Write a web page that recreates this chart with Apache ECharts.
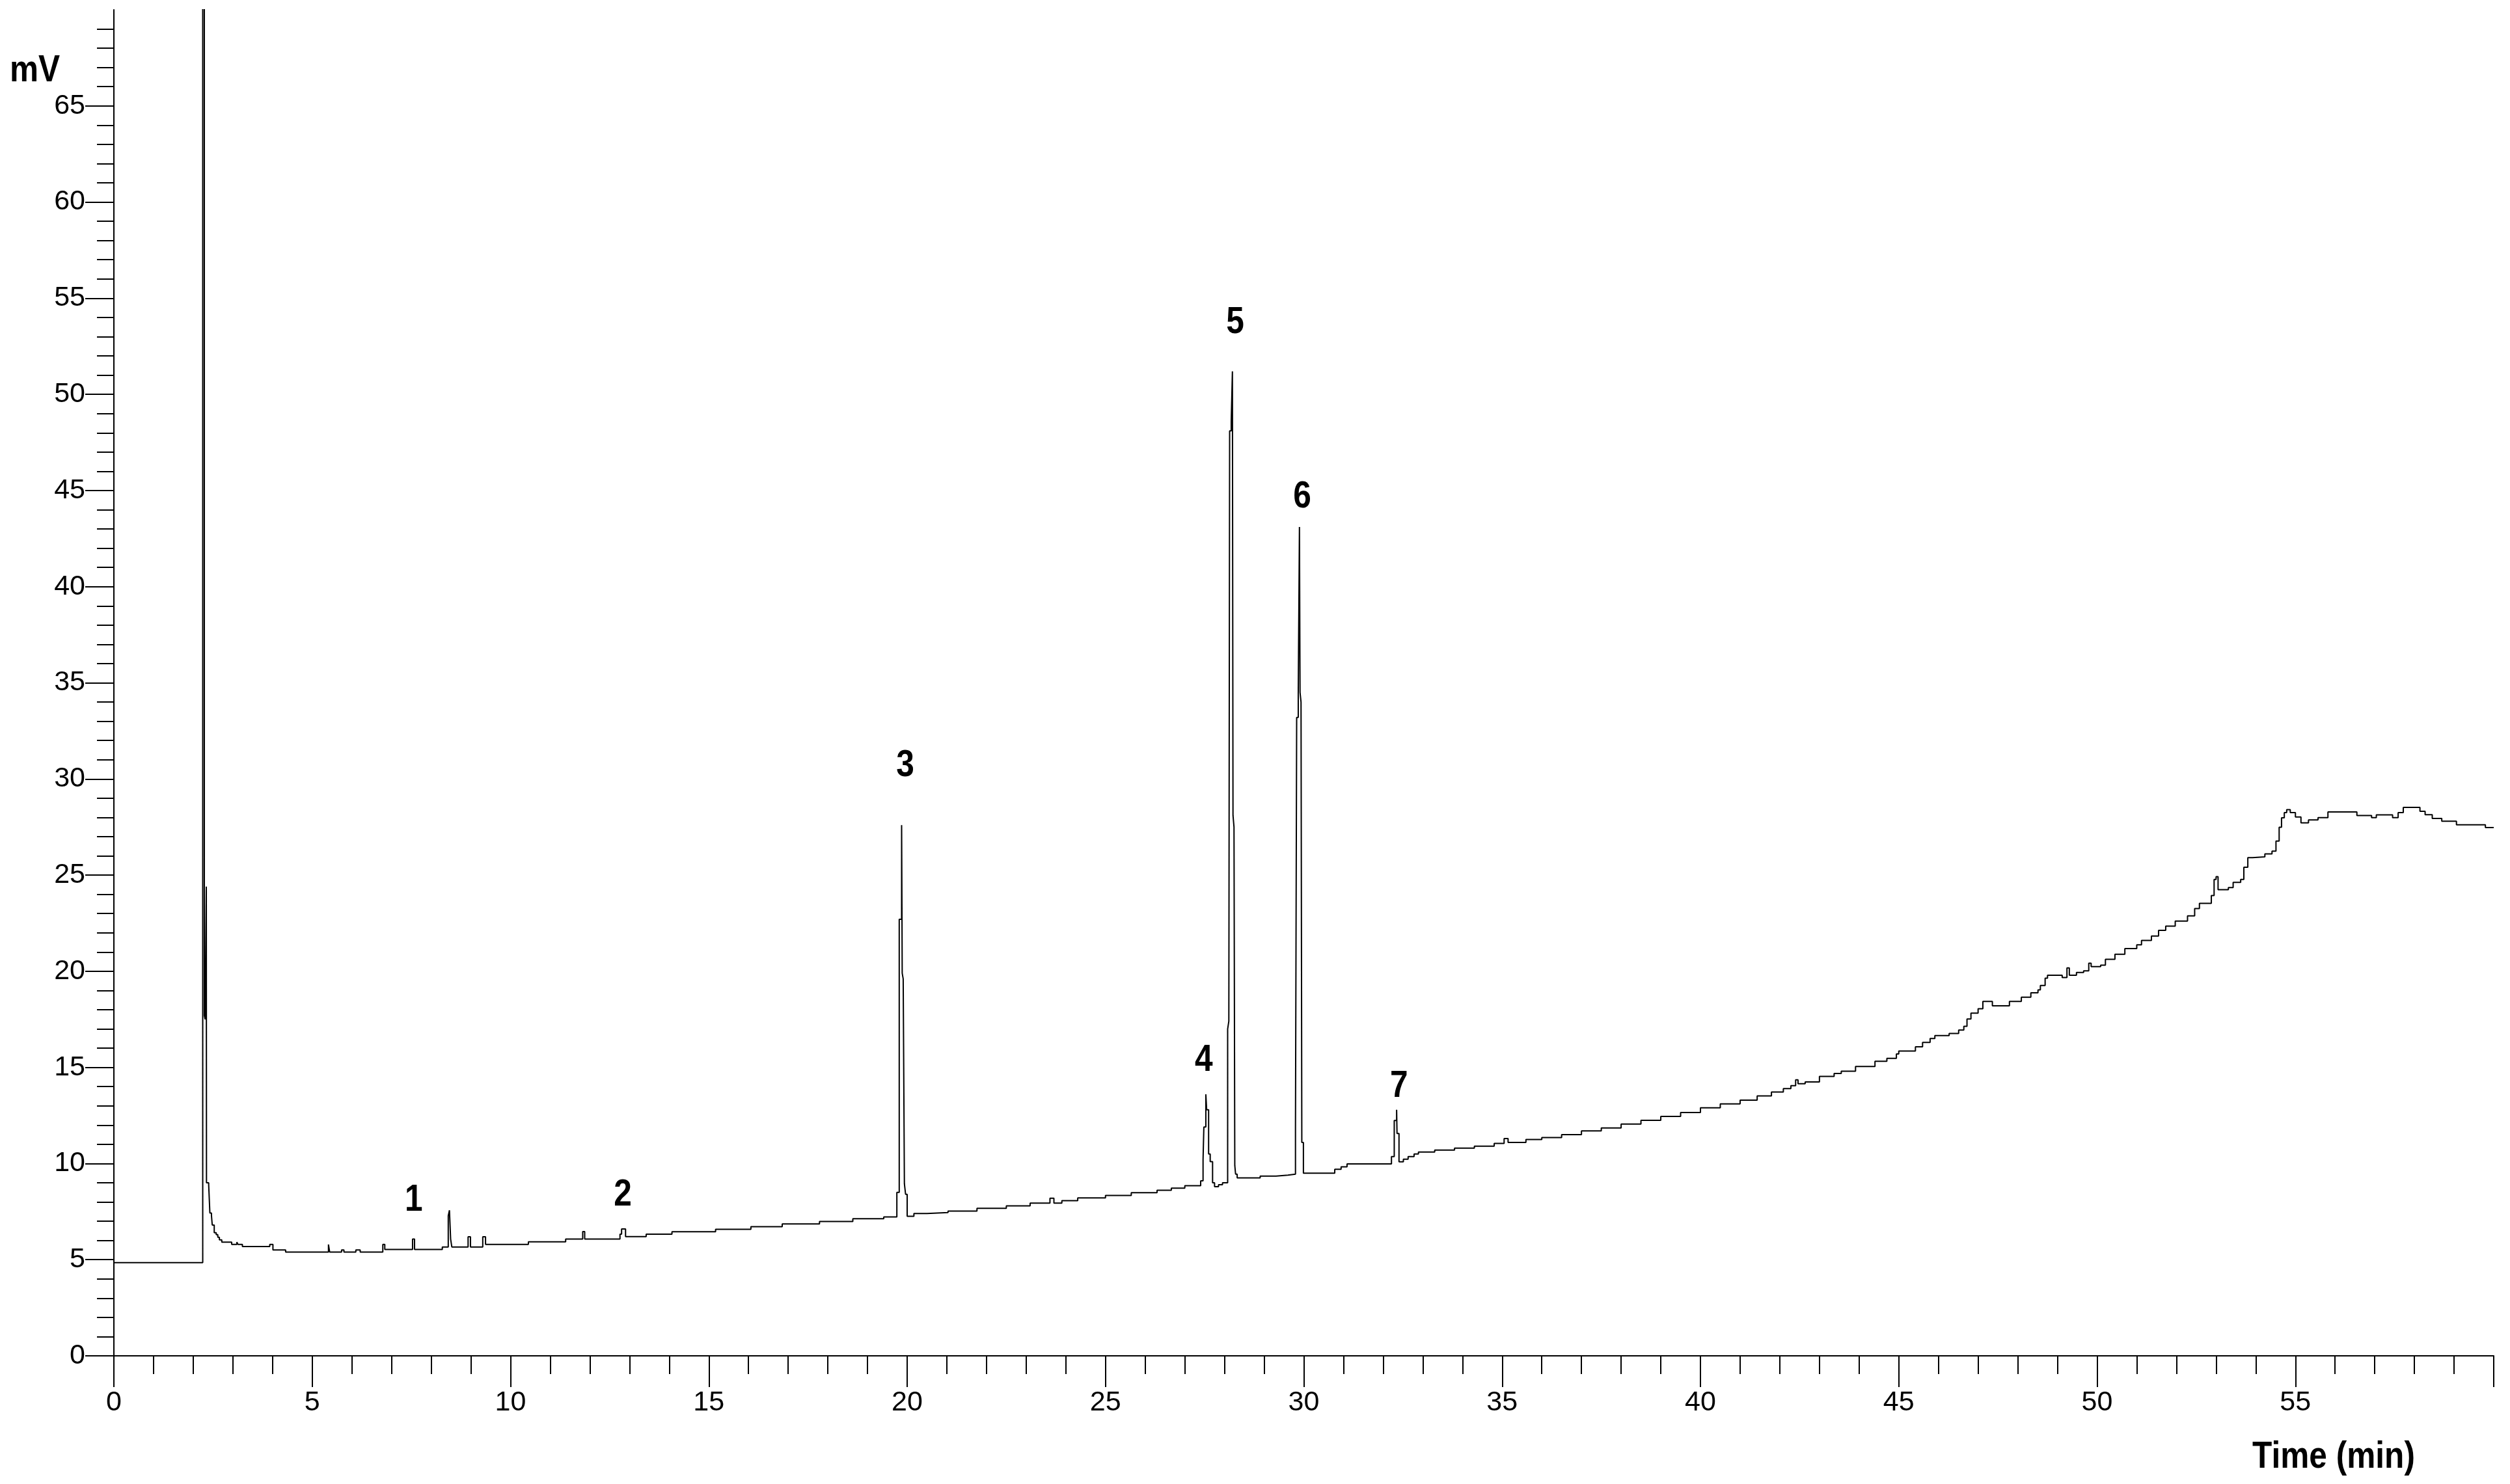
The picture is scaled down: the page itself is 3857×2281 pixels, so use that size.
<!DOCTYPE html>
<html>
<head>
<meta charset="utf-8">
<script src="https://cdn.jsdelivr.net/npm/echarts@6/dist/echarts.min.js"></script>
<style>
html,body{margin:0;padding:0;background:#fff;}
#c{width:3857px;height:2281px;}
</style>
</head>
<body>
<div id="c"></div>
<script>
// ---- chromatogram trace (time in min, signal in mV); each value holds until the next time ----
const traceTime = [
  0, 2.24, 2.28, 2.30, 2.33, 2.335, 2.39, 2.42, 2.46, 2.48, 2.53, 2.58, 2.62, 2.66, 2.72, 2.97, 3.10, 3.13, 3.24, 3.93,
  4.01, 4.33, 5.41, 5.44, 5.74, 5.80, 6.10, 6.21, 6.78, 6.83, 7.53, 7.58, 8.28, 8.43, 8.46, 8.49, 8.52, 8.93, 8.99, 9.30,
  9.37, 10.45, 11.39, 11.82, 11.87, 12.76, 12.80, 12.90, 13.42, 14.07, 15.17, 16.06, 16.85, 17.79, 18.63, 19.41,
  19.74, 19.80, 19.86, 19.875, 19.90, 19.93, 19.96, 20.00, 20.17, 20.50, 21.03, 21.76, 22.50, 23.10, 23.60, 23.70,
  23.90, 24.30, 25.00, 25.65, 26.30, 26.66, 27.00, 27.40, 27.46, 27.48, 27.53, 27.55, 27.60, 27.64, 27.70, 27.75,
  27.85, 27.95, 28.08, 28.11, 28.13, 28.17, 28.20, 28.215, 28.24, 28.26, 28.28, 28.32, 28.90, 29.30, 29.60,
  29.79, 29.82, 29.86, 29.89, 29.905, 29.93, 29.95, 29.99, 30.78, 30.94, 31.09, 32.21, 32.28, 32.34, 32.35, 32.40,
  32.51, 32.63, 32.78, 32.89, 33.3, 33.8, 34.3, 34.8, 35.05, 35.15, 35.6, 36.0, 36.5, 37.0, 37.5, 38.0, 38.5, 39.0,
  39.5, 40.0, 40.5, 41.0, 41.43, 41.79, 42.09, 42.28, 42.40, 42.46, 42.64, 43.00, 43.37, 43.55, 43.91, 44.40, 44.70,
  44.94, 45.00, 45.42, 45.60, 45.79, 45.91, 46.27, 46.51, 46.64, 46.72, 46.82, 47.00, 47.12, 47.36, 47.79, 48.09,
  48.33, 48.51, 48.57, 48.69, 48.75, 49.12, 49.24, 49.30, 49.48, 49.66, 49.79, 49.85, 50.09, 50.21, 50.45, 50.70,
  51.00, 51.12, 51.37, 51.55, 51.73, 51.97, 52.28, 52.46, 52.58, 52.88, 52.95, 53.00, 53.05, 53.31, 53.43, 53.62,
  53.70, 53.80, 53.92, 54.23, 54.41, 54.51, 54.59, 54.65, 54.72, 54.78, 54.87, 55.00, 55.14, 55.33, 55.57, 55.82,
  56.55, 56.92, 57.04, 57.45, 57.59, 57.72, 58.14, 58.27, 58.45, 58.69, 59.06, 59.79, 60.0
];
const traceMv = [
  4.85, 120, 17.7, 17.5, 24.4, 9.0, 8.9, 7.43, 7.3, 6.8, 6.4, 6.3, 6.17, 6.03, 5.91, 5.79, 5.91, 5.79, 5.68, 5.79,
  5.51, 5.40, 5.79, 5.40, 5.51, 5.40, 5.51, 5.40, 5.79, 5.53, 6.07, 5.53, 5.66, 7.28, 7.57, 6.07, 5.66, 6.19, 5.66, 6.19,
  5.79, 5.93, 6.07, 6.46, 6.07, 6.33, 6.60, 6.20, 6.33, 6.45, 6.58, 6.72, 6.86, 6.99, 7.13, 7.22,
  8.5, 22.7, 27.6, 19.9, 19.6, 8.95, 8.4, 7.26, 7.40, 7.45, 7.53, 7.67, 7.80, 7.94, 8.20, 7.94,
  8.07, 8.21, 8.34, 8.48, 8.61, 8.72, 8.85, 9.1, 10.2, 11.9, 13.6, 12.8, 10.5, 10.1, 9.0, 8.8,
  8.9, 9.0, 17.0, 17.4, 48.1, 48.6, 51.2, 28.1, 27.5, 9.9, 9.45, 9.25, 9.35, 9.4, 9.45,
  11.9, 33.2, 34.5, 43.1, 34.5, 34.0, 11.1, 9.5, 9.7, 9.83, 9.98, 10.36, 12.24, 12.8, 11.56, 10.09,
  10.23, 10.36, 10.5, 10.6, 10.7, 10.8, 10.9, 11.05, 11.3, 11.1, 11.25, 11.35, 11.5, 11.7, 11.85, 12.05, 12.25, 12.45,
  12.65, 12.9, 13.1, 13.3, 13.52, 13.72, 13.9, 14.05, 14.35, 14.15, 14.24, 14.53, 14.68, 14.8, 15.05, 15.32, 15.47,
  15.7, 15.85, 16.07, 16.3, 16.5, 16.65, 16.76, 16.94, 17.14, 17.52, 17.82, 18.05, 18.43, 18.2, 18.43, 18.65,
  18.88, 19.03, 19.26, 19.64, 19.79, 19.67, 20.17, 19.79, 19.94, 20.02, 20.42, 20.24, 20.32, 20.62, 20.88, 21.18,
  21.37, 21.6, 21.83, 22.13, 22.35, 22.61, 22.88, 23.26, 23.53, 23.94, 24.77, 24.92, 24.24, 24.35, 24.62, 24.77,
  25.41, 25.91, 25.95, 26.1, 26.25, 26.77, 27.49, 27.98, 28.25, 28.4, 28.25, 28.02, 27.72, 27.87, 27.99, 28.28,
  28.1, 27.99, 28.13, 27.99, 28.25, 28.52, 28.32, 28.14, 27.95, 27.8, 27.62, 27.47, 27.47
];

// ---- axes ----
const xTickValues = [0, 5, 10, 15, 20, 25, 30, 35, 40, 45, 50, 55, 60];
const xLabelValues = [0, 5, 10, 15, 20, 25, 30, 35, 40, 45, 50, 55];
const yTickValues = [0, 5, 10, 15, 20, 25, 30, 35, 40, 45, 50, 55, 60, 65];
const yLabelValues = [0, 5, 10, 15, 20, 25, 30, 35, 40, 45, 50, 55, 60, 65];
const xAxisTitle = 'Time (min)';
const yAxisTitle = 'mV';

// ---- peak numbers (anchored in data units) ----
const peakLabelText = ['1', '2', '3', '4', '5', '6', '7'];
const peakLabelTime = [7.56, 12.83, 19.95, 27.48, 28.27, 29.96, 32.40];
const peakLabelMv = [8.09, 8.36, 30.68, 15.36, 53.72, 44.66, 14.0];

const FONT = "'Liberation Sans', Arial, Helvetica, sans-serif";
const chart = echarts.init(document.getElementById('c'), null, {renderer: 'canvas', width: 3857, height: 2281});

const tracePoints = traceTime.map((t, i) => [t, traceMv[i]]);

chart.setOption({
  animation: false,
  backgroundColor: '#ffffff',
  grid: {left: 175, right: 25, top: 15, bottom: 197, containLabel: false},
  xAxis: {
    type: 'value', min: 0, max: 60, interval: 5,
    axisLine: {show: true, onZero: false, lineStyle: {color: '#000', width: 2}},
    axisTick: {show: true, length: 48, customValues: xTickValues, lineStyle: {color: '#000', width: 2}},
    minorTick: {show: true, splitNumber: 5, length: 28, lineStyle: {color: '#000', width: 2}},
    axisLabel: {show: true, customValues: xLabelValues, margin: 51, fontSize: 43, color: '#000', fontFamily: FONT},
    splitLine: {show: false},
    minorSplitLine: {show: false}
  },
  yAxis: {
    type: 'value', min: 0, max: 70, interval: 5,
    axisLine: {show: true, onZero: false, lineStyle: {color: '#000', width: 2}},
    axisTick: {show: true, length: 44, customValues: yTickValues, lineStyle: {color: '#000', width: 2}},
    minorTick: {show: true, splitNumber: 5, length: 26, lineStyle: {color: '#000', width: 2}},
    axisLabel: {show: true, customValues: yLabelValues, margin: 44, fontSize: 43, color: '#000', fontFamily: FONT, padding: [0, 0, 12, 0]},
    splitLine: {show: false},
    minorSplitLine: {show: false}
  },
  series: [{
    type: 'line',
    data: tracePoints,
    step: 'end',
    symbol: 'none',
    clip: true,
    lineStyle: {color: '#000', width: 2},
    emphasis: {disabled: true}
  }]
});

const boldStyle = {fontFamily: FONT, fontWeight: 'bold', fontSize: 57, fill: '#000'};
const graphics = [
  {type: 'text', x: 15, y: 109, scaleX: 0.87, style: Object.assign({text: yAxisTitle, align: 'left', verticalAlign: 'middle'}, boldStyle)},
  {type: 'text', x: 3586, y: 2240, scaleX: 0.87, style: Object.assign({text: xAxisTitle, align: 'center', verticalAlign: 'middle'}, boldStyle)}
];
peakLabelText.forEach((txt, i) => {
  const p = chart.convertToPixel({gridIndex: 0}, [peakLabelTime[i], peakLabelMv[i]]);
  graphics.push({type: 'text', x: p[0], y: p[1], scaleX: 0.87,
    style: Object.assign({text: txt, align: 'center', verticalAlign: 'middle'}, boldStyle)});
});
chart.setOption({graphic: graphics});
</script>
</body>
</html>
